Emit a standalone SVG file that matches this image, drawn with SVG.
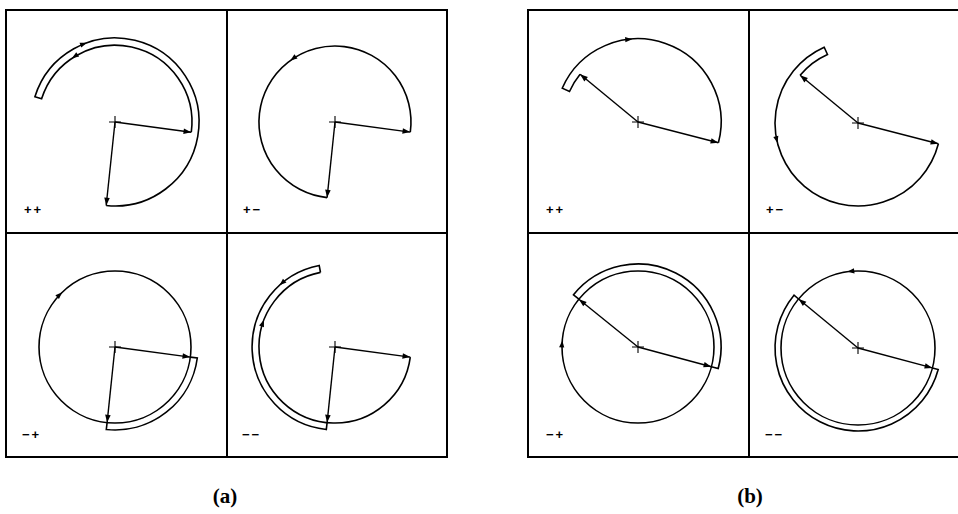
<svg xmlns="http://www.w3.org/2000/svg" xmlns:xlink="http://www.w3.org/1999/xlink" width="958" height="514" viewBox="0 0 958 514">
<style>
.frame{fill:none;stroke:#000;stroke-width:2}
.arc{fill:none;stroke:#000;stroke-width:1.6}
.ray{fill:none;stroke:#000;stroke-width:1.4;marker-end:url(#tip)}
.cross{fill:none;stroke:#000;stroke-width:1.1}
.sign{font-family:"Liberation Sans",Arial,sans-serif;font-size:13px;font-weight:bold;letter-spacing:2px}
.cap{font-family:"Liberation Serif","Times New Roman",serif;font-size:21px;font-weight:bold;text-anchor:middle}
</style>
<defs>
<marker id="tip" markerUnits="userSpaceOnUse" markerWidth="10" markerHeight="8" viewBox="-8 -3 9 6" refX="0" refY="0" orient="auto"><path d="M0,0 L-7,-2.5 L-7,2.5 Z" fill="#000"/></marker>
<path id="ah" d="M0,0 L-7,-2.6 L-7,2.6 Z" fill="#000"/>
<path id="cr" d="M-6,0 H6 M0,-6 V6" class="cross"/>
</defs>
<g id="frames">
<rect class="frame" x="6" y="10" width="441" height="447"/>
<line class="frame" x1="227" y1="10" x2="227" y2="457"/>
<line class="frame" x1="6" y1="233" x2="447" y2="233"/>
<rect class="frame" x="528" y="10" width="442" height="447"/>
<line class="frame" x1="749" y1="10" x2="749" y2="457"/>
<line class="frame" x1="528" y1="233" x2="970" y2="233"/>
</g>
<g id="panel-a-pp">
<path class="arc" d="M191.3,132.2 A77,77 0 0 0 41.6,98.8 L34.9,96.7 A84,84 0 1 1 106.2,205.5"/>
<use xlink:href="#ah" href="#ah" transform="translate(87,42.8) rotate(340.5)"/>
<use xlink:href="#ah" href="#ah" transform="translate(71.9,58.2) rotate(146)"/>
<use xlink:href="#cr" href="#cr" transform="translate(115,122)"/>
<text class="sign" x="24" y="214">++</text>
</g>
<g id="panel-a-pm">
<path class="arc" d="M410.3,132.1 A76,76 0 1 0 327.1,197.6"/>
<use xlink:href="#ah" href="#ah" transform="translate(290.3,60.5) rotate(144)"/>
<use xlink:href="#cr" href="#cr" transform="translate(335,122)"/>
<text class="sign" x="243" y="214">+−</text>
</g>
<g id="panel-a-mp">
<circle class="arc" cx="115" cy="347" r="76"/>
<path class="arc" d="M190.3,357.1 L197.3,358 A83,83 0 0 1 106.3,429.5 L107.1,422.6"/>
<use xlink:href="#ah" href="#ah" transform="translate(62.2,292.3) rotate(316)"/>
<use xlink:href="#cr" href="#cr" transform="translate(115,347)"/>
<text class="sign" x="22" y="439">−+</text>
</g>
<g id="panel-a-mm">
<path class="arc" d="M410.3,357.1 A76,76 0 1 1 320.5,272.4"/>
<path class="arc" d="M327.1,422.6 L326.3,429.5 A83,83 0 0 1 319.2,265.5 L320.5,272.4"/>
<use xlink:href="#ah" href="#ah" transform="translate(279.5,285.3) rotate(138)"/>
<use xlink:href="#ah" href="#ah" transform="translate(264,319.8) rotate(291)"/>
<use xlink:href="#cr" href="#cr" transform="translate(335,347)"/>
<text class="sign" x="242" y="439">−−</text>
</g>
<g id="panel-b-pp">
<path class="arc" d="M580.1,74.3 A75,75 0 0 0 569.5,91.5 L562.2,88.2 A83,83 0 0 1 718.4,142.8"/>
<use xlink:href="#ah" href="#ah" transform="translate(632.2,39.2) rotate(356)"/>
<use xlink:href="#cr" href="#cr" transform="translate(638,122)"/>
<text class="sign" x="546" y="214">++</text>
</g>
<g id="panel-b-pm">
<path class="arc" d="M938.4,143.8 A83,83 0 1 1 824.2,47.2 L827.5,54.5 A75,75 0 0 0 800.1,75.3"/>
<use xlink:href="#ah" href="#ah" transform="translate(777.5,143.1) rotate(76)"/>
<use xlink:href="#cr" href="#cr" transform="translate(858,123)"/>
<text class="sign" x="766" y="214">+−</text>
</g>
<g id="panel-b-mp">
<circle class="arc" cx="638" cy="347" r="76"/>
<path class="arc" d="M578.9,299.2 L573.5,294.8 A83,83 0 0 1 718.2,368.5 L711.4,366.7"/>
<use xlink:href="#ah" href="#ah" transform="translate(562.3,340.4) rotate(275)"/>
<use xlink:href="#cr" href="#cr" transform="translate(638,347)"/>
<text class="sign" x="546" y="439">−+</text>
</g>
<g id="panel-b-mm">
<circle class="arc" cx="858" cy="348" r="77"/>
<path class="arc" d="M932.4,367.9 L938.2,369.5 A83,83 0 1 1 794,295.2 L798.6,299"/>
<use xlink:href="#ah" href="#ah" transform="translate(847.3,271.8) rotate(172)"/>
<use xlink:href="#cr" href="#cr" transform="translate(858,348)"/>
<text class="sign" x="765" y="439">−−</text>
</g>
<g id="connectors">
<line class="ray" x1="115" y1="122" x2="191.3" y2="132.2"/>
<line class="ray" x1="115" y1="122" x2="106.2" y2="205.5"/>
<line class="ray" x1="335" y1="122" x2="410.3" y2="132.1"/>
<line class="ray" x1="335" y1="122" x2="327.1" y2="197.6"/>
<line class="ray" x1="115" y1="347" x2="190.3" y2="357.1"/>
<line class="ray" x1="115" y1="347" x2="107.1" y2="422.6"/>
<line class="ray" x1="335" y1="347" x2="410.3" y2="357.1"/>
<line class="ray" x1="335" y1="347" x2="327.1" y2="422.6"/>
<line class="ray" x1="638" y1="122" x2="718.4" y2="142.8"/>
<line class="ray" x1="638" y1="122" x2="580.1" y2="74.3"/>
<line class="ray" x1="858" y1="123" x2="938.4" y2="143.8"/>
<line class="ray" x1="858" y1="123" x2="800.1" y2="75.3"/>
<line class="ray" x1="638" y1="347" x2="711.4" y2="366.7"/>
<line class="ray" x1="638" y1="347" x2="578.9" y2="299.2"/>
<line class="ray" x1="858" y1="348" x2="932.4" y2="367.9"/>
<line class="ray" x1="858" y1="348" x2="798.6" y2="299"/>
</g>
<g id="captions">
<text class="cap" x="225" y="503">(a)</text>
<text class="cap" x="750" y="503">(b)</text>
</g>
</svg>
